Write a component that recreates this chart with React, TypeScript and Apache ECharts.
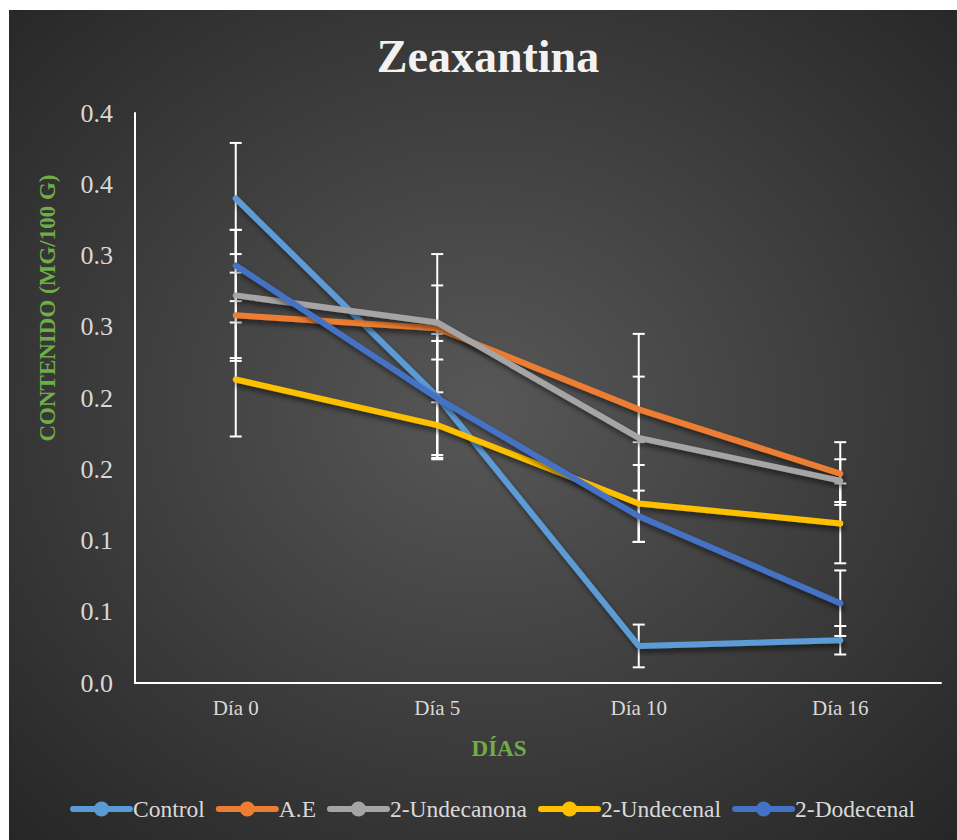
import React, { useEffect, useRef } from "react";
import * as echarts from "echarts";

const categories = ["Día 0", "Día 5", "Día 10", "Día 16"];
const yTickLabels = ["0.0", "0.1", "0.1", "0.2", "0.2", "0.3", "0.3", "0.4", "0.4"];

const seriesNames = ["Control", "A.E", "2-Undecanona", "2-Undecenal", "2-Dodecenal"];
const seriesColors = ["#5B9BD5", "#ED7D31", "#A5A5A5", "#FFC000", "#4472C4"];

const controlValues = [0.340, 0.201, 0.026, 0.030];
const aeValues = [0.258, 0.249, 0.192, 0.147];
const undecanonaValues = [0.272, 0.253, 0.172, 0.142];
const undecenalValues = [0.213, 0.181, 0.126, 0.112];
const dodecenalValues = [0.293, 0.200, 0.117, 0.056];

const controlErrors = [0.039, 0.044, 0.015, 0.010];
const aeErrors = [0.030, 0.052, 0.023, 0.022];
const undecanonaErrors = [0.046, 0.026, 0.073, 0.015];
const undecenalErrors = [0.040, 0.023, 0.027, 0.028];
const dodecenalErrors = [0.025, 0.040, 0.018, 0.023];

const allValues = [controlValues, aeValues, undecanonaValues, undecenalValues, dodecenalValues];
const allErrors = [controlErrors, aeErrors, undecanonaErrors, undecenalErrors, dodecenalErrors];

const SERIF = "'Liberation Serif', 'Times New Roman', serif";

export default function App() {
  const ref = useRef<HTMLDivElement>(null);

  useEffect(() => {
    if (!ref.current) return;
    const chart = echarts.init(ref.current, undefined, { renderer: "svg" });

    const lineSeries = seriesNames.map((name, i) => ({
      name,
      type: "line",
      data: allValues[i],
      symbol: "circle",
      showSymbol: false,
      z: 5,
      itemStyle: { color: seriesColors[i] },
      lineStyle: {
        color: seriesColors[i],
        width: 6,
        cap: "round",
        join: "round",
        shadowColor: "rgba(0,0,0,0.5)",
        shadowBlur: 5,
        shadowOffsetX: 2,
        shadowOffsetY: 4,
      },
      emphasis: { disabled: true },
    }));

    const errorSeries = seriesNames.map((name, i) => ({
      name: name + " error",
      type: "custom",
      z: 3,
      silent: true,
      data: allValues[i].map((v, j) => [j, v - allErrors[i][j], v + allErrors[i][j]]),
      encode: { x: 0, y: [1, 2] },
      renderItem: (params: any, api: any) => {
        const x = api.value(0);
        const lo = api.coord([x, api.value(1)]);
        const hi = api.coord([x, api.value(2)]);
        const hw = 6;
        const style = { stroke: "#FFFFFF", lineWidth: 2 };
        return {
          type: "group",
          children: [
            { type: "line", shape: { x1: lo[0], y1: lo[1], x2: hi[0], y2: hi[1] }, style },
            { type: "line", shape: { x1: lo[0] - hw, y1: lo[1], x2: lo[0] + hw, y2: lo[1] }, style },
            { type: "line", shape: { x1: hi[0] - hw, y1: hi[1], x2: hi[0] + hw, y2: hi[1] }, style },
          ],
        };
      },
    }));

    chart.setOption({
      animation: false,
      backgroundColor: {
        type: "radial",
        x: 0.5,
        y: 0.48,
        r: 0.72,
        colorStops: [
          { offset: 0, color: "#575757" },
          { offset: 1, color: "#262626" },
        ],
      },
      grid: { left: 126, right: 16, top: 103, bottom: 157, containLabel: false },
      xAxis: {
        type: "category",
        data: categories,
        boundaryGap: true,
        axisLine: { show: true, lineStyle: { color: "#FFFFFF", width: 2 } },
        axisTick: { show: false },
        axisLabel: { color: "#D9D9D9", fontSize: 21, fontFamily: SERIF, margin: 14 },
        splitLine: { show: false },
      },
      yAxis: {
        type: "value",
        min: 0,
        max: 0.4,
        interval: 0.05,
        axisLine: { show: true, lineStyle: { color: "#FFFFFF", width: 2 } },
        axisTick: { show: false },
        splitLine: { show: false },
        axisLabel: {
          color: "#D9D9D9",
          fontSize: 26,
          fontFamily: SERIF,
          margin: 22,
          formatter: (v: number) => yTickLabels[Math.round(v / 0.05)] ?? "",
        },
      },
      legend: {
        data: seriesNames,
        left: 56,
        top: 782,
        itemWidth: 57,
        itemHeight: 19,
        itemGap: 11,
        lineStyle: { width: 6, shadowBlur: 0, shadowOffsetX: 0, shadowOffsetY: 0 },
        textStyle: { color: "#D9D9D9", fontSize: 23.5, fontFamily: SERIF, padding: [0, 0, 0, -2] },
      },
      graphic: [
        {
          type: "text",
          x: 479,
          y: 46,
          style: {
            text: "Zeaxantina",
            fill: "#F2F2F2",
            font: "bold 46px " + SERIF,
            textAlign: "center",
            textVerticalAlign: "middle",
          },
        },
        {
          type: "text",
          x: 490,
          y: 738,
          style: {
            text: "DÍAS",
            fill: "#70AD47",
            font: "bold 23px " + SERIF,
            textAlign: "center",
            textVerticalAlign: "middle",
          },
        },
        {
          type: "text",
          x: 38,
          y: 298,
          rotation: Math.PI / 2,
          style: {
            text: "CONTENIDO (MG/100 G)",
            fill: "#70AD47",
            font: "bold 23px " + SERIF,
            textAlign: "center",
            textVerticalAlign: "middle",
          },
        },
      ],
      series: [...errorSeries, ...lineSeries],
    });

    return () => chart.dispose();
  }, []);

  return (
    <div
      ref={ref}
      style={{ position: "absolute", left: 9, top: 10, width: 948, height: 830 }}
    />
  );
}
